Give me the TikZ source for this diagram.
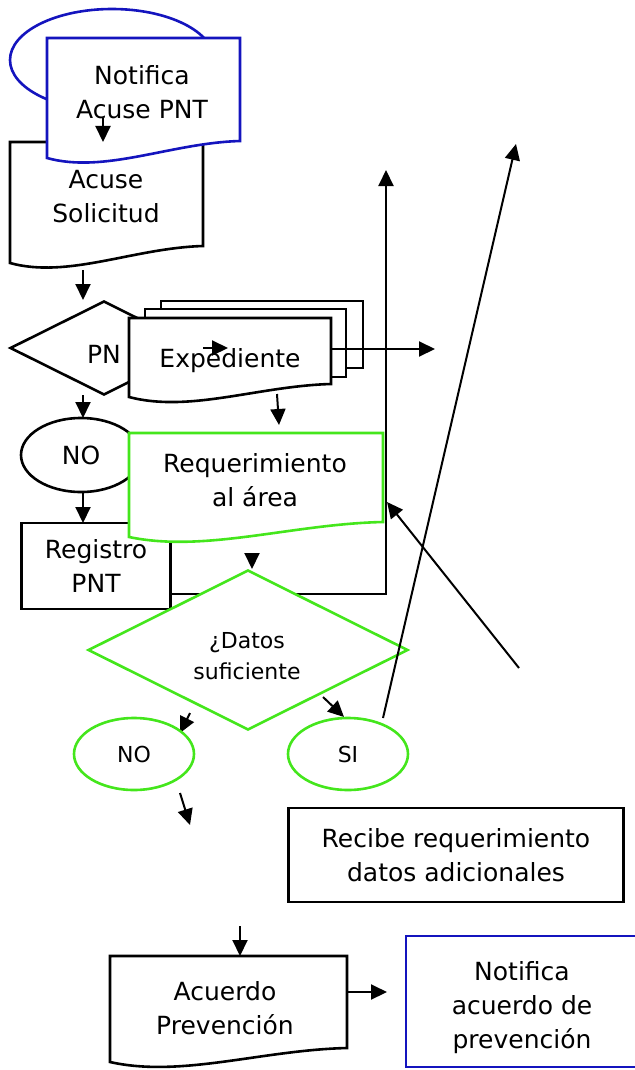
\documentclass[tikz,border=0pt]{standalone}
\usepackage{fontspec}
\setmainfont{DejaVu Sans}
\usetikzlibrary{arrows.meta,shapes.geometric}
\definecolor{azulnoti}{RGB}{20,20,190}
\definecolor{verdereq}{RGB}{68,230,28}
\tikzset{
  borde/.style={line width=2.6pt, fill=white},
  flecha/.style={line width=2pt, -{Triangle[length=16pt,width=15pt]}},
  texto/.style={align=center, inner sep=0pt},
  chico/.style={font=\fontsize{22}{31}\selectfont},
}
\newcommand{\hoja}[6]{%
  \draw[borde,#1] (#2,#3) -- (#4,#3) -- (#4,#5)
    .. controls ({#2+0.64*(#4-#2)},{#5+2}) and ({#2+0.3*(#4-#2)},{#6+16}) .. (#2,#6) -- cycle;}
\begin{document}
\begin{tikzpicture}[x=1pt,y=-1pt,font=\fontsize{25}{34}\selectfont]
\useasboundingbox (0,0) rectangle (634,1070);
\node[ellipse,draw=azulnoti,line width=2.6pt,minimum width=204pt,minimum height=102pt] (inicio) at (112,60) {};
\hoja{}{10}{142}{203}{246}{263}
\node[texto] (acuse) at (106,197) {Acuse\\Solicitud};
\hoja{draw=azulnoti}{47}{38}{240}{141}{158}
\node[texto] (notacuse) at (142,92) {Notifica\\Acuse PNT};
\coordinate (a1) at (103,118);
\coordinate (a2) at (103,142);
\draw[flecha] (a1) -- (a2);
\coordinate (b1) at (83,270);
\coordinate (b2) at (83,300);
\draw[flecha] (b1) -- (b2);
\node[diamond,draw,borde,minimum width=188pt,minimum height=94pt,inner sep=0pt] (pn) at (104,348) {};
\node[texto] (pntexto) at (104,354) {PN};
\draw[borde] (161,301) rectangle (363,368);
\draw[borde] (145,309) rectangle (346,377);
\hoja{}{129}{318}{331}{384}{397}
\node[texto] (expediente) at (230,361) {Expediente};
\coordinate (c1) at (203,348);
\coordinate (c2) at (228,348);
\draw[flecha] (c1) -- (c2);
\coordinate (d1) at (331,349);
\coordinate (d2) at (435,349);
\draw[flecha] (d1) -- (d2);
\coordinate (e1) at (83,395);
\coordinate (e2) at (83,418);
\draw[flecha] (e1) -- (e2);
\node[ellipse,draw,borde,minimum width=120pt,minimum height=74pt,inner sep=0pt] (nopn) at (81,455) {NO};
\coordinate (f1) at (83,491);
\coordinate (f2) at (83,523);
\draw[flecha] (f1) -- (f2);
\node[draw,borde,texto,minimum width=149pt,minimum height=86pt] (registro) at (96,566) {Registro\\PNT};
\hoja{draw=verdereq}{129}{433}{383}{522}{537}
\node[texto] (requerimiento) at (255,480) {Requerimiento\\al área};
\coordinate (g1) at (277,394);
\coordinate (g2) at (279,425);
\draw[flecha] (g1) -- (g2);
\coordinate (h1) at (171,594);
\coordinate (h2) at (386,170);
\draw[flecha] (h1) -| (h2);
\node[diamond,draw=verdereq,borde,minimum width=320pt,minimum height=160pt,inner sep=0pt] (datos) at (248,650) {};
\node[texto,chico] (datostexto) at (247,656) {¿Datos\\suficiente};
\coordinate (i1) at (252,553);
\coordinate (i2) at (252,569);
\draw[flecha] (i1) -- (i2);
\coordinate (j1) at (190,713);
\coordinate (j2) at (180,733);
\draw[flecha] (j1) -- (j2);
\coordinate (k1) at (323,697);
\coordinate (k2) at (344,717);
\draw[flecha] (k1) -- (k2);
\node[ellipse,draw=verdereq,borde,chico,minimum width=120pt,minimum height=72pt,inner sep=0pt] (nodatos) at (134,754) {NO};
\node[ellipse,draw=verdereq,borde,chico,minimum width=120pt,minimum height=72pt,inner sep=0pt] (si) at (348,754) {SI};
\coordinate (l1) at (383,718);
\coordinate (l2) at (516,144);
\draw[flecha] (l1) -- (l2);
\coordinate (m1) at (519,668);
\coordinate (m2) at (387,502);
\draw[flecha] (m1) -- (m2);
\coordinate (n1) at (180,793);
\coordinate (n2) at (190,825);
\draw[flecha] (n1) -- (n2);
\node[draw,borde,texto,minimum width=335pt,minimum height=94pt] (recibe) at (456,855) {Recibe requerimiento\\datos adicionales};
\coordinate (o1) at (240,926);
\coordinate (o2) at (240,956);
\draw[flecha] (o1) -- (o2);
\hoja{}{110}{956}{347}{1048}{1062}
\node[texto] (acuerdo) at (225,1008) {Acuerdo\\Prevención};
\coordinate (p1) at (347,992);
\coordinate (p2) at (387,992);
\draw[flecha] (p1) -- (p2);
\node[draw=azulnoti,borde,minimum width=234pt,minimum height=131pt] (notiacuerdo) at (523,1001.5) {};
\node[texto] (notiacuerdotexto) at (522,1008) {Notifica\\acuerdo de\\prevención};
\end{tikzpicture}
\end{document}
